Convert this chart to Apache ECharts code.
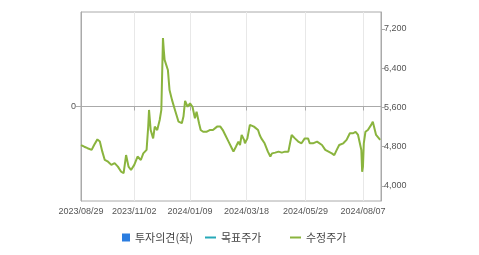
<!DOCTYPE html>
<html><head><meta charset="utf-8">
<script src="https://cdn.jsdelivr.net/npm/echarts@6/dist/echarts.min.js"></script>
<style>html,body{margin:0;padding:0;background:#fff}#c{width:479px;height:255px}</style>
</head><body><div id="c"></div>
<script>
// Adjusted price (수정주가): day offsets from 2023/08/29 and values
const startDate = [2023, 8, 29];
const dayOffsets = [0,4,8,13,16,20,23,26,29,33,37,41,45,49,52,55,58,61,65,69,73,76,80,82,83,85,88,90,93,96,98,100,101,102,104,106,108,111,115,119,123,125,127,130,133,136,139,141,143,144,146,149,153,157,161,166,170,173,176,180,184,186,189,192,194,196,199,200,203,206,208,211,213,216,218,220,224,228,231,233,237,241,245,249,253,255,257,259,261,265,269,273,275,277,279,283,288,289,294,298,302,306,309,312,315,320,324,328,332,335,338,340,342,343,344,345,347,350,352,354,356,358,360,362,365];
const prices = [4835,4800,4770,4735,4835,4950,4905,4700,4530,4495,4430,4465,4395,4290,4260,4630,4395,4325,4430,4600,4530,4665,4735,5210,5550,5140,4970,5210,5140,5345,5550,7015,6770,6570,6610,6365,5955,5755,5530,5310,5280,5415,5735,5615,5685,5615,5380,5515,5550,5280,5140,5105,5105,5140,5140,5210,5210,5140,5040,4905,4770,4700,4800,4905,4835,5040,4940,4870,4970,5245,5280,5210,5175,5140,5040,4970,4870,4700,4600,4665,4680,4700,4680,4700,4700,4735,5040,5075,4970,4905,4870,4970,5005,4970,4870,4870,4905,4870,4835,4735,4700,4665,4630,4735,4835,4870,4940,5075,5075,5105,5040,5075,4735,4290,4395,4870,5105,5140,5105,5245,5310,5280,5040,5005,4940];
const xTickLabels = ['2023/08/29','2023/11/02','2024/01/09','2024/03/18','2024/05/29','2024/08/07'];
const rightTicks = [4000,4800,5600,6400,7200];
const leftTicks = [0];
const legendNames = ['투자의견(좌)','목표주가','수정주가'];

const DAY = 86400000;
const t0 = Date.UTC(startDate[0], startDate[1]-1, startDate[2]);
const lineData = dayOffsets.map((d,i)=>[d, prices[i]]);
const xTickVals = xTickLabels.map(s=>{const p=s.split('/').map(Number);return Math.round((Date.UTC(p[0],p[1]-1,p[2])-t0)/DAY);});
const labelFor = v=>{const i=xTickVals.indexOf(Math.round(v));return i>=0?xTickLabels[i]:'';};

const font = "'Liberation Sans', 'Noto Sans CJK KR', sans-serif";
const chart = echarts.init(document.getElementById('c'), null, {renderer:'canvas'});
const legendBase = {orient:'horizontal', top:227, itemGap:0, textStyle:{fontSize:11, color:'#444', fontFamily:"'Noto Sans CJK KR', sans-serif"}, selectedMode:false};
chart.setOption({
  animation:false,
  grid:{left:81, right:98, top:12, bottom:54, show:true, borderColor:'#aaa', borderWidth:1, containLabel:false},
  legend:[
    Object.assign({}, legendBase, {left:117, data:[{name:legendNames[0], icon:'rect'}], itemWidth:8, itemHeight:8, itemTextGap:5}),
    Object.assign({}, legendBase, {left:200, data:[{name:legendNames[1], icon:'rect'}], itemWidth:11, itemHeight:2, itemTextGap:4}),
    Object.assign({}, legendBase, {left:285, data:[{name:legendNames[2], icon:'rect'}], itemWidth:11, itemHeight:2, itemTextGap:3})
  ],
  xAxis:{type:'value', min:0, max:366,
    axisLine:{lineStyle:{color:'#aaa'}},
    axisTick:{show:true, length:4, lineStyle:{color:'#aaa'}, customValues:xTickVals},
    axisLabel:{customValues:xTickVals, formatter:v=>labelFor(v), fontSize:9, color:'#555', fontFamily:font, margin:6},
    splitLine:{show:true, lineStyle:{color:'#e8e8e8'}}
  },
  yAxis:[
    {type:'value', position:'left', min:-1, max:1,
      axisLine:{show:true, lineStyle:{color:'#aaa'}},
      axisTick:{show:true, length:5, lineStyle:{color:'#aaa'}, customValues:leftTicks},
      axisLabel:{customValues:leftTicks, fontSize:9, color:'#555', fontFamily:font, margin:5},
      splitLine:{show:true, lineStyle:{color:'#e8e8e8'}}
    },
    {type:'value', position:'right', min:3694, max:7546,
      axisLine:{show:true, lineStyle:{color:'#aaa'}},
      axisTick:{show:true, length:4, lineStyle:{color:'#aaa'}, customValues:rightTicks},
      axisLabel:{customValues:rightTicks, fontSize:9, color:'#555', fontFamily:font, margin:3, formatter:v=>v.toLocaleString('en-US')},
      splitLine:{show:false}
    }
  ],
  series:[
    {name:legendNames[0], type:'bar', yAxisIndex:0, data:[], itemStyle:{color:'#2b7de0'}},
    {name:legendNames[1], type:'line', yAxisIndex:1, data:[], itemStyle:{color:'#27a9b8'}, lineStyle:{color:'#27a9b8'}},
    {name:legendNames[2], type:'line', yAxisIndex:1, data:lineData, showSymbol:false, symbol:'none', itemStyle:{color:'#8ab43e'}, lineStyle:{color:'#8ab43e', width:2}}
  ]
});
</script></body></html>
